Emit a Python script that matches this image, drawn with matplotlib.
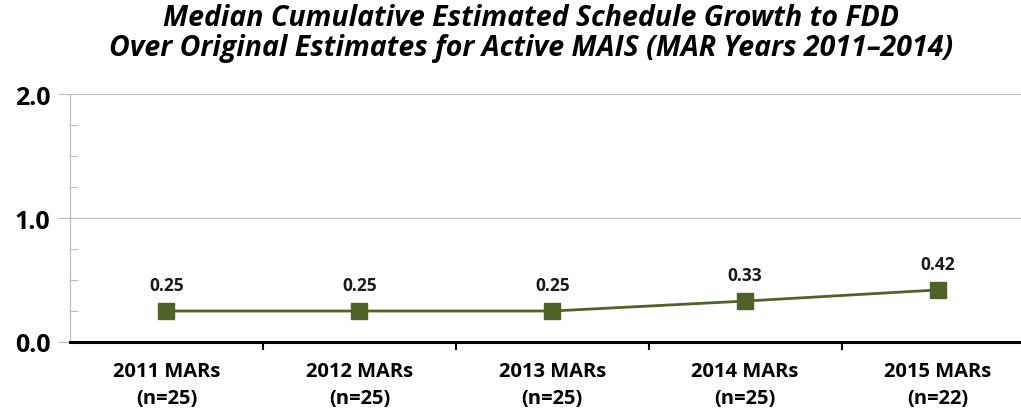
import matplotlib
matplotlib.use("Agg")
import matplotlib.pyplot as plt
from matplotlib.ticker import MultipleLocator

categories = ["2011 MARs\n(n=25)", "2012 MARs\n(n=25)", "2013 MARs\n(n=25)",
              "2014 MARs\n(n=25)", "2015 MARs\n(n=22)"]
values = [0.25, 0.25, 0.25, 0.33, 0.42]
value_labels = ["0.25", "0.25", "0.25", "0.33", "0.42"]

plt.rcParams["font.family"] = ["Open Sans", "DejaVu Sans"]

fig = plt.figure(figsize=(10.21, 4.14), dpi=100)
ax = fig.add_axes([0.0686, 0.1715, 0.9314, 0.599])

x = list(range(len(values)))
ax.plot(x, values, color="#4f6228", linewidth=2.0, marker="s", markersize=11,
        markerfacecolor="#4f6228", markeredgecolor="#4f6228", zorder=3)

for xi, v, lab in zip(x, values, value_labels):
    ax.annotate(lab, (xi, v), xytext=(0, 12), textcoords="offset points",
                ha="center", va="bottom", fontsize=12.5, fontweight="bold", color="#1a1a1a")

ax.set_xlim(-0.5, 4.43)
ax.set_ylim(0, 2.0)
ax.yaxis.set_minor_locator(MultipleLocator(0.25))
ax.set_yticks([0, 1, 2])
ax.set_yticklabels(["0.0", "1.0", "2.0"], fontsize=18, fontweight="bold")
ax.tick_params(axis="y", which="major", length=9, width=0.8, color="#bfbfbf", pad=5, direction="out")
ax.tick_params(axis="y", which="minor", length=6, width=0.8, color="#bfbfbf", direction="in")

ax.set_xticks(x)
ax.set_xticklabels(categories, fontsize=14.5, fontweight="bold", linespacing=1.45)
ax.set_xticks([i + 0.5 for i in range(4)], minor=True)
ax.tick_params(axis="x", which="major", length=0, pad=14)
ax.tick_params(axis="x", which="minor", length=6, width=1.5, color="black", direction="out")

ax.grid(axis="y", which="major", color="#bfbfbf", linewidth=0.9)
ax.set_axisbelow(True)
for side in ["top", "right"]:
    ax.spines[side].set_visible(False)
ax.spines["left"].set_color("#bfbfbf")
ax.spines["left"].set_linewidth(0.9)
ax.spines["bottom"].set_color("black")
ax.spines["bottom"].set_linewidth(2.2)
ax.spines["bottom"].set_zorder(4)

fig.text(0.52, 0.955, "Median Cumulative Estimated Schedule Growth to FDD",
         ha="center", va="center", fontsize=20.5, fontweight="bold", style="italic")
fig.text(0.52, 0.883, "Over Original Estimates for Active MAIS (MAR Years 2011\u20132014)",
         ha="center", va="center", fontsize=20.5, fontweight="bold", style="italic")

fig.savefig("out.png", dpi=100)
